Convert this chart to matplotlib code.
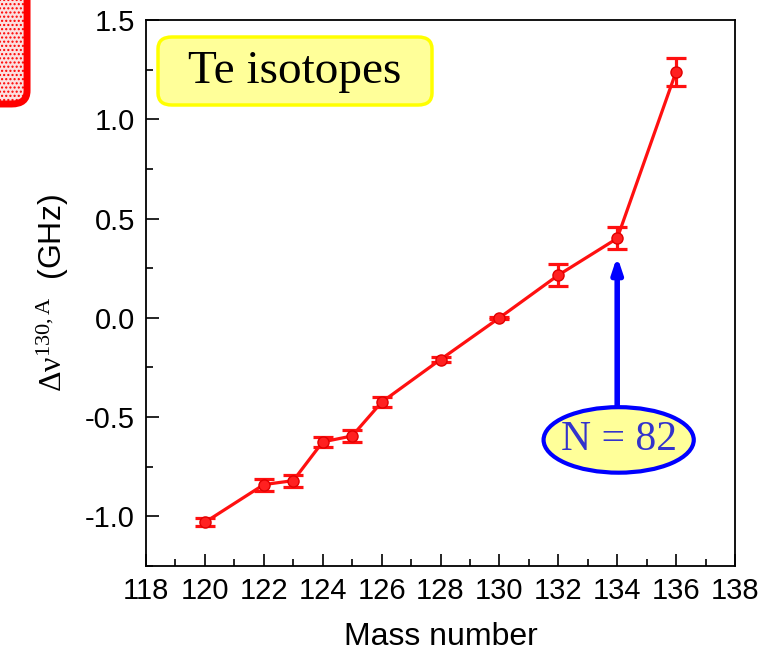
import matplotlib
matplotlib.use("Agg")
import matplotlib.pyplot as plt
from matplotlib.patches import FancyBboxPatch, Ellipse
from matplotlib.ticker import MultipleLocator

plt.rcParams['font.family'] = ['Liberation Sans', 'DejaVu Sans']
plt.rcParams['mathtext.fontset'] = 'custom'
plt.rcParams['mathtext.rm'] = 'Liberation Serif'
plt.rcParams['mathtext.it'] = 'Liberation Serif:italic'
plt.rcParams['axes.unicode_minus'] = False

# Isotope shifts relative to 130Te
mass = [120, 122, 123, 124, 125, 126, 128, 130, 132, 134, 136]
shift = [-1.03, -0.84, -0.82, -0.625, -0.595, -0.425, -0.21, 0.0, 0.215, 0.40, 1.24]
err = [0.02, 0.03, 0.03, 0.025, 0.03, 0.025, 0.012, 0.006, 0.055, 0.055, 0.07]

W, H = 773, 661
fig = plt.figure(figsize=(W / 100, H / 100), dpi=100)
ax = fig.add_axes([146 / W, 1 - 566 / H, (735 - 146) / W, (566 - 20) / H])

ax.errorbar(mass, shift, yerr=err, color='#ff1010', lw=2.3, marker='o', ms=8,
            mec='#e00000', mfc='#ff2020', capsize=7, capthick=2.3, elinewidth=2.3, zorder=3)

ax.set_xlim(118, 138)
ax.set_ylim(-1.25, 1.5)
ax.xaxis.set_major_locator(MultipleLocator(2))
ax.xaxis.set_minor_locator(MultipleLocator(1))
ax.yaxis.set_major_locator(MultipleLocator(0.5))
ax.yaxis.set_minor_locator(MultipleLocator(0.25))
ax.tick_params(which='both', direction='in', labelsize=21, width=1.2, pad=8)
ax.tick_params(which='major', length=9)
ax.tick_params(which='minor', length=5)
for s in ax.spines.values():
    s.set_linewidth(1.3)

ax.set_xlabel('Mass number', fontsize=23, labelpad=12)
ax.set_ylabel(r'$\mathrm{Δν}^{\mathrm{130,A}}$  (GHz)', fontsize=23, labelpad=10)

# Title box
title_box = FancyBboxPatch((158 / W, 1 - 105 / H), 274 / W, 68 / H,
                           boxstyle='round,pad=0,rounding_size=0.018',
                           transform=fig.transFigure, fc='#ffff99', ec='#ffff00', lw=2.5)
fig.patches.append(title_box)
fig.text(295 / W, 1 - 72 / H, 'Te isotopes', fontsize=34, family=['Liberation Serif'],
         ha='center', va='center')

# Shell closure marker
ax.annotate('', xy=(134, 0.31), xytext=(134, -0.45),
            arrowprops=dict(arrowstyle='-|>,head_length=0.9,head_width=0.3',
                            color='#0000ff', lw=4, shrinkA=0, shrinkB=0))
ell = Ellipse((134.05, -0.615), 5.1, 0.33, fc='#ffff99', ec='#0000ff', lw=3, zorder=4)
ax.add_patch(ell)
ax.text(134.05, -0.615, 'N = 82', fontsize=30, family=['Liberation Serif'], color='#3333cc',
        ha='center', va='center', zorder=5)

# Side marker box
side = FancyBboxPatch((-0.05, 1 - 104 / H), 0.085, 0.2,
                      boxstyle='round,pad=0,rounding_size=0.02', transform=fig.transFigure,
                      fc='#fbe0e0', ec='#ff0000', lw=5, hatch='....', clip_on=False)
fig.patches.append(side)

fig.savefig('out.png', dpi=100)
